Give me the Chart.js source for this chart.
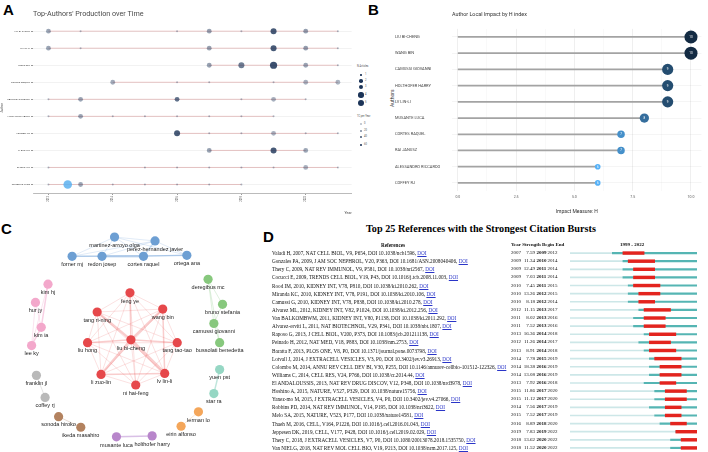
<!DOCTYPE html>
<html>
<head>
<meta charset="utf-8">
<script src="https://cdn.jsdelivr.net/npm/chart.js@4.4.0/dist/chart.umd.min.js"></script>
<style>
  body { margin: 0; width: 708px; height: 452px; background: #fff; position: relative; overflow: hidden; font-family: Roboto, "Liberation Sans", sans-serif; }
  canvas { position: absolute; }
  .tag { position: absolute; font: bold 15px "Liberation Sans", Arial, sans-serif; color: #000; line-height: 1; }
  .tx { position: absolute; white-space: nowrap; }
  .ref { position: absolute; white-space: nowrap; font-family: "Liberation Serif", "Times New Roman", serif; font-size: 5.2px; line-height: 8px; height: 8px; color: #111; }
  .num { font-size: 5px; }
  .ref a { color: #2a35c8; text-decoration: underline; }
  .leg { position: absolute; font-size: 2.6px; color: #555; white-space: nowrap; }
  .dot { position: absolute; border-radius: 50%; }
</style>
</head>
<body>
<div class="tag" style="left:3px;top:2px">A</div>
<div class="tag" style="left:368px;top:2px">B</div>
<div class="tag" style="left:1px;top:221px">C</div>
<div class="tag" style="left:263px;top:229px">D</div>

<canvas id="cA" width="356" height="215" style="left:0;top:0"></canvas>
<canvas id="cB" width="313" height="215" style="left:395px;top:0"></canvas>
<canvas id="cC" width="258" height="232" style="left:0;top:220px"></canvas>
<canvas id="cD" width="127" height="203" style="left:570px;top:249px"></canvas>
<div id="legA"></div>
<div id="tabD"></div>

<script>
// ---- A: production over time ----
const prodAuthors = ['LIU BI-CHENG', 'LV LIN-LI', 'WANG BIN', 'CORTES RAQUEL', 'CAMUSSI GIOVANNI',
  'HOLTHOFER HARRY', 'LERMAN LO', 'LI ZUO-LIN', 'ZHANG XIN', 'MUSANTE LUCA'];
const prodYears = [
  [2012, 2013, 2016, 2017, 2018, 2019, 2020, 2021],
  [2012, 2013, 2017, 2019, 2020, 2021],
  [2017, 2018, 2019, 2020, 2021],
  [2014, 2016, 2017, 2019, 2020, 2021],
  [2012, 2013, 2016, 2018, 2019, 2020],
  [2012, 2013, 2014, 2015, 2016, 2017, 2018, 2019],
  [2016, 2017, 2018, 2019, 2020, 2021],
  [2017, 2019, 2020],
  [2012, 2015, 2016, 2017, 2018, 2019, 2020, 2021],
  [2012, 2012.6, 2013, 2014, 2015, 2016, 2017, 2018]
];
const prodArticles = [
  [2, 1, 1, 2, 1, 3, 2, 1],
  [2, 1, 2, 3, 2, 1],
  [2, 3, 4, 2, 1],
  [2, 1, 1, 1, 2, 2],
  [1, 2, 2, 1, 2, 1],
  [1, 2, 1, 1, 1, 1, 1, 1],
  [3, 1, 1, 2, 1, 1],
  [2, 3, 2],
  [1, 1, 1, 1, 1, 1, 2, 1],
  [1, 5, 2, 1, 1, 1, 1, 1]
];
const prodTC = [
  [12, 3, 3, 14, 3, 45, 15, 3],
  [12, 3, 14, 45, 15, 3],
  [14, 30, 50, 12, 3],
  [10, 3, 3, 3, 8, 6],
  [3, 12, 35, 3, 8, 3],
  [3, 12, 3, 3, 3, 3, 3, 3],
  [45, 3, 3, 8, 3, 3],
  [14, 45, 12],
  [3, 3, 3, 3, 3, 3, 8, 3],
  [3, 60, 12, 3, 3, 3, 3, 3]
];
const prodYearTicks = [2012, 2014, 2016, 2018, 2020];
const legArticles = [1, 2, 3, 4, 5];
const legTC = [0, 20, 40, 60];

// ---- B: H index ----
const hAuthors = ['LIU BI-CHENG', 'WANG BIN', 'CAMUSSI GIOVANNI', 'HOLTHOFER HARRY', 'LV LIN-LI',
  'MUSANTE LUCA', 'CORTES RAQUEL', 'RAI JANUSZ', 'ALESSANDRO RICCARDO', 'COFFEY RJ'];
const hIndex = [10, 10, 9, 9, 9, 8, 7, 7, 6, 6];
const hTicks = [0, 2.5, 5, 7.5, 10];

// ---- C: co-authorship network ----
const netNodes = ['martinez-arroyo olga', 'perez-hernandez javier', 'forner mj', 'redon josep', 'cortes raquel', 'ortega ana',
  'kim hj', 'hur jy', 'kim ia', 'lee ky',
  'feng ye', 'wang bin', 'tang ri-ning', 'liu bi-cheng', 'liu hong', 'tang tao-tao', 'li zuo-lin', 'lv lin-li', 'ni hai-feng',
  'deregibus mc', 'bruno stefania', 'camussi giovanni', 'bussolati benedetta',
  'yuen pst', 'star ra', 'franklin jl', 'coffey rj', 'sonoda hiroko', 'ikeda masahiro',
  'musante luca', 'holthofer harry', 'lerman lo', 'eirin alfonso'];
const netGroup = [0, 0, 0, 0, 0, 0, 1, 1, 1, 1, 2, 2, 2, 2, 2, 2, 2, 2, 2, 3, 3, 3, 3, 4, 4, 5, 5, 6, 6, 7, 7, 8, 8];
const netX = [114, 156, 70, 101, 144, 189, 45, 32, 38, 28, 130, 164, 96, 131, 86, 179, 100, 166, 136,
  211, 226, 217, 223, 223, 217, 33, 42, 56, 79, 116, 153, 201, 183];
const netY = [233, 237, 253, 253, 253, 252, 282, 301, 327, 346, 291, 308, 311, 340, 343, 343, 376, 375, 387,
  277, 303, 323, 343, 371, 396, 377, 400, 420, 431, 441, 440, 415, 430];
const netEdges = [
  [0, 1, 1], [0, 2, 1], [0, 3, 1], [0, 4, 1], [0, 5, 1], [1, 3, 1], [1, 4, 2], [1, 5, 1], [1, 2, 1],
  [2, 3, 2], [2, 4, 1], [3, 4, 3], [3, 5, 1], [4, 5, 2], [2, 5, 1],
  [6, 8, 2], [6, 9, 1], [7, 8, 1], [8, 9, 2], [7, 9, 1],
  [19, 20, 1], [19, 21, 1], [20, 21, 1], [21, 22, 1], [19, 22, 1],
  [23, 24, 2], [25, 26, 1], [27, 28, 1], [29, 30, 2], [31, 32, 1]
];
const redCore = [10, 11, 12, 13, 14, 15, 16, 17, 18];
const redHeavy = [[13, 17, 4], [13, 11, 3], [13, 16, 3], [13, 12, 3], [13, 15, 2], [17, 11, 2], [16, 17, 2], [13, 14, 2], [13, 10, 2]];

// ---- D: citation bursts ----
const refCites = [
  'Valadi H, 2007, NAT CELL BIOL, V9, P654, DOI 10.1038/ncb1596',
  'Gonzales PA, 2009, J AM SOC NEPHROL, V20, P363, DOI 10.1681/ASN.2008040406',
  'Thery C, 2009, NAT REV IMMUNOL, V9, P581, DOI 10.1038/nri2567',
  'Cocucci E, 2009, TRENDS CELL BIOL, V19, P43, DOI 10.1016/j.tcb.2008.11.003',
  'Rood IM, 2010, KIDNEY INT, V78, P810, DOI 10.1038/ki.2010.262',
  'Miranda KC, 2010, KIDNEY INT, V78, P191, DOI 10.1038/ki.2010.106',
  'Camussi G, 2010, KIDNEY INT, V78, P838, DOI 10.1038/ki.2010.278',
  'Alvarez ML, 2012, KIDNEY INT, V82, P1024, DOI 10.1038/ki.2012.256',
  'Van BALKOMBWM, 2011, KIDNEY INT, V80, P1138, DOI 10.1038/ki.2011.292',
  'Alvarez-erviti L, 2011, NAT BIOTECHNOL, V29, P341, DOI 10.1038/nbt.1807',
  'Raposo G, 2013, J CELL BIOL, V200, P373, DOI 10.1083/jcb.201211138',
  'Peinado H, 2012, NAT MED, V18, P883, DOI 10.1038/nm.2753',
  'Baratta F, 2013, PLOS ONE, V8, P0, DOI 10.1371/journal.pone.0073798',
  'Lotvall J, 2014, J EXTRACELL VESICLES, V3, P0, DOI 10.3402/jev.v3.26913',
  'Colombo M, 2014, ANNU REV CELL DEV BI, V30, P255, DOI 10.1146/annurev-cellbio-101512-122326',
  'Williams C, 2014, CELL RES, V24, P766, DOI 10.1038/cr.2014.44',
  'El ANDALOUSSIS, 2013, NAT REV DRUG DISCOV, V12, P348, DOI 10.1038/nrd3978',
  'Hoshino A, 2015, NATURE, V527, P329, DOI 10.1038/nature15756',
  'Yanez-mo M, 2015, J EXTRACELL VESICLES, V4, P0, DOI 10.3402/jev.v4.27066',
  'Robbins PD, 2014, NAT REV IMMUNOL, V14, P195, DOI 10.1038/nri3622',
  'Melo SA, 2015, NATURE, V523, P177, DOI 10.1038/nature14581',
  'Thaeh M, 2016, CELL, V164, P1226, DOI 10.1016/j.cell.2016.01.043',
  'Jeppesen DK, 2019, CELL, V177, P428, DOI 10.1016/j.cell.2019.02.029',
  'Thery C, 2018, J EXTRACELL VESICLES, V7, P0, DOI 10.1080/20013078.2018.1535750',
  'Van NIELG, 2018, NAT REV MOL CELL BIO, V19, P213, DOI 10.1038/nrm.2017.125'
];
const refYear = [2007, 2009, 2009, 2009, 2010, 2010, 2010, 2012, 2011, 2011, 2013, 2012, 2013, 2014, 2014, 2014, 2013, 2015, 2015, 2014, 2015, 2016, 2019, 2018, 2018];
const refStrength = [7.59, 11.34, 12.49, 7.03, 7.45, 13.26, 8.18, 11.15, 8.02, 7.52, 16.36, 11.26, 8.91, 7.78, 18.38, 13.08, 7.92, 11.86, 11.12, 7.56, 7.52, 8.89, 7.83, 13.62, 11.52];
const refBegin = [2009, 2010, 2011, 2011, 2011, 2012, 2012, 2013, 2013, 2013, 2014, 2014, 2014, 2015, 2016, 2016, 2016, 2017, 2017, 2017, 2017, 2018, 2019, 2020, 2020];
const refEnd = [2012, 2014, 2014, 2014, 2015, 2015, 2014, 2017, 2016, 2016, 2018, 2017, 2018, 2019, 2019, 2019, 2018, 2020, 2020, 2019, 2019, 2020, 2022, 2022, 2022];
const burstRange = [1999, 2022];

Chart.defaults.animation = false;
Chart.defaults.responsive = false;
Chart.defaults.plugins.legend.display = false;
Chart.defaults.plugins.tooltip.enabled = false;
Chart.defaults.font.family = 'Roboto, "Liberation Sans", sans-serif';

// ---------- A ----------
const sizeA = n => [0, 1, 2.4, 3, 3.6, 4.3][n];
const colA = t => t >= 60 ? 'rgba(92,176,238,0.85)' : 'rgba(28,52,88,' + Math.min(0.92, 0.3 + t / 55 * 0.62).toFixed(2) + ')';

const aPoints = prodAuthors.map((a, i) => ({
  type: 'scatter', order: 1,
  data: prodYears[i].map(y => ({ x: y, y: a })),
  pointRadius: prodArticles[i].map(sizeA),
  pointBackgroundColor: prodTC[i].map(colA),
  pointBorderWidth: 0
}));
const aLines = prodAuthors.map((a, i) => ({
  type: 'line', order: 2,
  data: [{ x: Math.min(...prodYears[i]), y: a }, { x: Math.max(...prodYears[i]), y: a }],
  borderColor: 'rgba(178,34,34,0.3)', borderWidth: 0.8, pointRadius: 0
}));

new Chart(document.getElementById('cA'), {
  type: 'scatter',
  data: { datasets: [...aPoints, ...aLines] },
  options: {
    layout: { padding: { right: 4 } },
    plugins: {
      title: { display: true, text: "Top-Authors' Production over Time", align: 'start', fullSize: false,
        color: '#4a4a4a', font: { size: 7.2, weight: 'normal' }, padding: { top: 10, bottom: 4 } }
    },
    scales: {
      x: {
        type: 'linear', min: 2011.52, max: 2021.43,
        afterBuildTicks: s => { s.ticks = prodYearTicks.map(v => ({ value: v })); },
        afterFit: s => { s.height = 22; },
        ticks: { minRotation: 90, maxRotation: 90, font: { size: 2.6 }, color: '#555', padding: 1, callback: v => String(v) },
        grid: { drawOnChartArea: false, tickLength: 2, color: '#999' },
        border: { color: '#aaa', width: 0.8 },
        title: { display: true, text: 'Year', align: 'end', font: { size: 3.6 }, color: '#444', padding: 0 }
      },
      y: {
        type: 'category', labels: prodAuthors, offset: true,
        afterFit: s => { s.width = 33; },
        ticks: { font: { size: 2.5 }, color: '#444', padding: 1 },
        grid: { color: 'rgba(0,0,0,0.05)', tickLength: 2, tickColor: '#999', offset: false },
        border: { display: false },
        title: { display: true, text: 'Author', font: { size: 3.2 }, color: '#444', padding: 0 }
      }
    }
  }
});

// legend of A (sits left of B)
(function () {
  const L = document.getElementById('legA');
  let h = '<div class="leg" style="left:357px;top:65px">N.Articles</div>';
  const ys = [75, 81, 87, 95, 103];
  legArticles.forEach((n, i) => {
    const r = sizeA(n) * 0.75;
    h += '<div class="dot" style="left:' + (361 - r) + 'px;top:' + (ys[i] - r) + 'px;width:' + 2 * r + 'px;height:' + 2 * r + 'px;background:#1c3458"></div>';
    h += '<div class="leg" style="left:365px;top:' + (ys[i] - 1.6) + 'px">' + n + '</div>';
  });
  h += '<div class="leg" style="left:357px;top:115px">TC per Year</div>';
  const ys2 = [124, 131, 137, 145];
  legTC.forEach((t, i) => {
    h += '<div class="dot" style="left:360px;top:' + (ys2[i] - 0.8) + 'px;width:1.6px;height:1.6px;background:' + colA(Math.min(t, 55)) + '"></div>';
    h += '<div class="leg" style="left:364px;top:' + (ys2[i] - 1.6) + 'px">' + t + '</div>';
  });
  h += '<div class="tx" style="left:389px;top:107px;font-size:5px;color:#333;transform:rotate(-90deg);transform-origin:0 0">Authors</div>';
  L.innerHTML = h;
})();

// ---------- B ----------
const lo = [0x56, 0xB1, 0xF7], hi = [0x13, 0x2B, 0x43];
const colB = v => {
  const f = (v - 6) / 4;
  return 'rgb(' + lo.map((c, k) => Math.round(c + (hi[k] - c) * f)).join(',') + ')';
};
const sizeB = v => 2.8 + (v - 6) * 0.93;
const bGrid = hTicks.concat(hTicks.slice(1).map((v, i) => (v + hTicks[i]) / 2)).sort((a, b) => a - b);

const bubbleText = {
  id: 'bubbleText',
  afterDatasetsDraw(chart) {
    const ctx = chart.ctx, meta = chart.getDatasetMeta(0);
    ctx.save();
    ctx.fillStyle = '#fff';
    ctx.font = '3px Roboto';
    ctx.textAlign = 'center';
    ctx.textBaseline = 'middle';
    meta.data.forEach((p, i) => ctx.fillText(String(hIndex[i]), p.x, p.y + 0.2));
    ctx.restore();
  }
};

new Chart(document.getElementById('cB'), {
  type: 'bar',
  data: {
    labels: hAuthors,
    datasets: [
      { type: 'line', data: hIndex, showLine: false, order: 1,
        pointRadius: hIndex.map(sizeB), pointBackgroundColor: hIndex.map(colB), pointBorderWidth: 0 },
      { data: hIndex, backgroundColor: '#a3a3a3', barThickness: 1.1, order: 2 }
    ]
  },
  options: {
    indexAxis: 'y',
    layout: { padding: { right: 3.4 } },
    plugins: {
      title: { display: true, text: 'Author Local Impact by H index', align: 'start', fullSize: false,
        color: '#333', font: { size: 5.4, weight: 'normal' }, padding: { top: 11, bottom: 11.4 } }
    },
    scales: {
      x: {
        min: -0.25, max: 10.45,
        afterBuildTicks: s => { s.ticks = bGrid.map(v => ({ value: v })); },
        afterFit: s => { s.height = 24; },
        ticks: { callback: v => hTicks.includes(v) ? v.toFixed(1) : '', font: { size: 3.5 }, color: '#555', padding: 4.5 },
        grid: { color: c => hTicks.includes(c.tick.value) ? 'rgba(0,0,0,0.09)' : 'rgba(0,0,0,0.04)', drawTicks: false, lineWidth: 0.7 },
        border: { display: false },
        title: { display: true, text: 'Impact Measure: H', font: { size: 5 }, color: '#333', padding: { top: 0.5, bottom: 0 } }
      },
      y: {
        afterFit: s => { s.width = 57; },
        ticks: { crossAlign: 'far', font: { size: 4 }, color: '#444' },
        grid: { offset: false, color: 'rgba(0,0,0,0.06)', drawTicks: false, lineWidth: 0.7 },
        border: { display: false }
      }
    }
  },
  plugins: [bubbleText]
});

// ---------- C ----------
const groupNode = ['#6d9fd3', '#f3a8cb', '#e6484b', '#87c87d', '#96d7c4', '#b9b9b9', '#b3825f', '#b886cb', '#f4a65a'];
const groupEdge = ['rgba(110,160,215,0.35)', 'rgba(240,150,195,0.45)', 'rgba(235,90,90,0.3)', 'rgba(120,190,115,0.4)',
  'rgba(130,205,185,0.5)', 'rgba(160,160,160,0.5)', 'rgba(170,120,90,0.45)', 'rgba(180,130,205,0.5)', 'rgba(240,160,90,0.45)'];

const allEdges = netEdges.slice();
redCore.forEach((a, i) => redCore.slice(i + 1).forEach(b => {
  const hv = redHeavy.find(e => (e[0] === a && e[1] === b) || (e[0] === b && e[1] === a));
  allEdges.push([a, b, hv ? hv[2] : 1]);
}));

const edgeSets = allEdges.map(([a, b, w]) => ({
  type: 'line', order: 2,
  data: [{ x: netX[a], y: netY[a] }, { x: netX[b], y: netY[b] }],
  borderColor: groupEdge[netGroup[a]], borderWidth: 0.6 + (w - 1) * 0.9, pointRadius: 0
}));

const nodeLabels = {
  id: 'nodeLabels',
  afterDatasetsDraw(chart) {
    const ctx = chart.ctx, meta = chart.getDatasetMeta(0);
    ctx.save();
    ctx.fillStyle = '#222';
    ctx.font = '5.5px "Liberation Sans", Arial, sans-serif';
    ctx.textAlign = 'center';
    ctx.textBaseline = 'middle';
    meta.data.forEach((p, i) => ctx.fillText(netNodes[i], p.x, p.y + 8.2));
    ctx.restore();
  }
};

new Chart(document.getElementById('cC'), {
  type: 'scatter',
  data: {
    datasets: [
      { order: 1, data: netNodes.map((n, i) => ({ x: netX[i], y: netY[i] })),
        pointRadius: 4.6, pointBackgroundColor: netGroup.map(g => groupNode[g]), pointBorderWidth: 0 },
      ...edgeSets
    ]
  },
  options: {
    scales: {
      x: { display: false, min: 0, max: 258 },
      y: { display: false, min: 220, max: 452, reverse: true }
    }
  },
  plugins: [nodeLabels]
});

// ---------- D ----------
const rowH = 203 / refCites.length;
(function () {
  const T = document.getElementById('tabD');
  let h = '<div class="tx" style="left:366px;top:223px;font:bold 10.2px \'Liberation Serif\',serif;color:#000">Top 25 References with the Strongest Citation Bursts</div>';
  h += '<div class="ref" style="left:378px;top:241px;font-weight:bold;width:30px;text-align:center">References</div>';
  h += '<div class="ref num" style="left:511px;top:241px;font-weight:bold">Year Strength Begin End</div>';
  h += '<div class="ref num" style="left:620px;top:241px;font-weight:bold">' + burstRange[0] + ' - ' + burstRange[1] + '</div>';
  refCites.forEach((r, i) => {
    const top = 249 + (i + 0.5) * rowH - 4;
    h += '<div class="ref" style="left:272px;top:' + top + 'px">' + r + ', <a>DOI</a></div>';
    h += '<div class="ref num" style="left:511px;top:' + top + 'px">' + refYear[i] + '</div>';
    h += '<div class="ref num" style="left:520px;top:' + top + 'px;width:15px;text-align:right">' + refStrength[i].toFixed(2) + '</div>';
    h += '<div class="ref num" style="left:536.5px;top:' + top + 'px;font-weight:bold">' + refBegin[i] + '</div>';
    h += '<div class="ref num" style="left:547.5px;top:' + top + 'px">' + refEnd[i] + '</div>';
  });
  T.innerHTML = h;
})();

new Chart(document.getElementById('cD'), {
  type: 'bar',
  data: {
    labels: refCites.map((r, i) => i + 1),
    datasets: [
      { data: refBegin.map((b, i) => [b - 0.5, refEnd[i] + 0.5]), backgroundColor: '#e3241e', barThickness: 2.8, grouped: false },
      { data: refYear.map(y => [y - 0.5, burstRange[1] + 0.5]), backgroundColor: '#55b5b3', barThickness: 1.5, grouped: false },
      { data: refYear.map(y => [burstRange[0] - 0.5, y - 0.5]), backgroundColor: '#cde7e8', barThickness: 1, grouped: false }
    ]
  },
  options: {
    indexAxis: 'y',
    scales: {
      x: { display: false, min: burstRange[0] - 0.5, max: burstRange[1] + 0.5 },
      y: { display: false }
    }
  }
});
</script>
</body>
</html>
